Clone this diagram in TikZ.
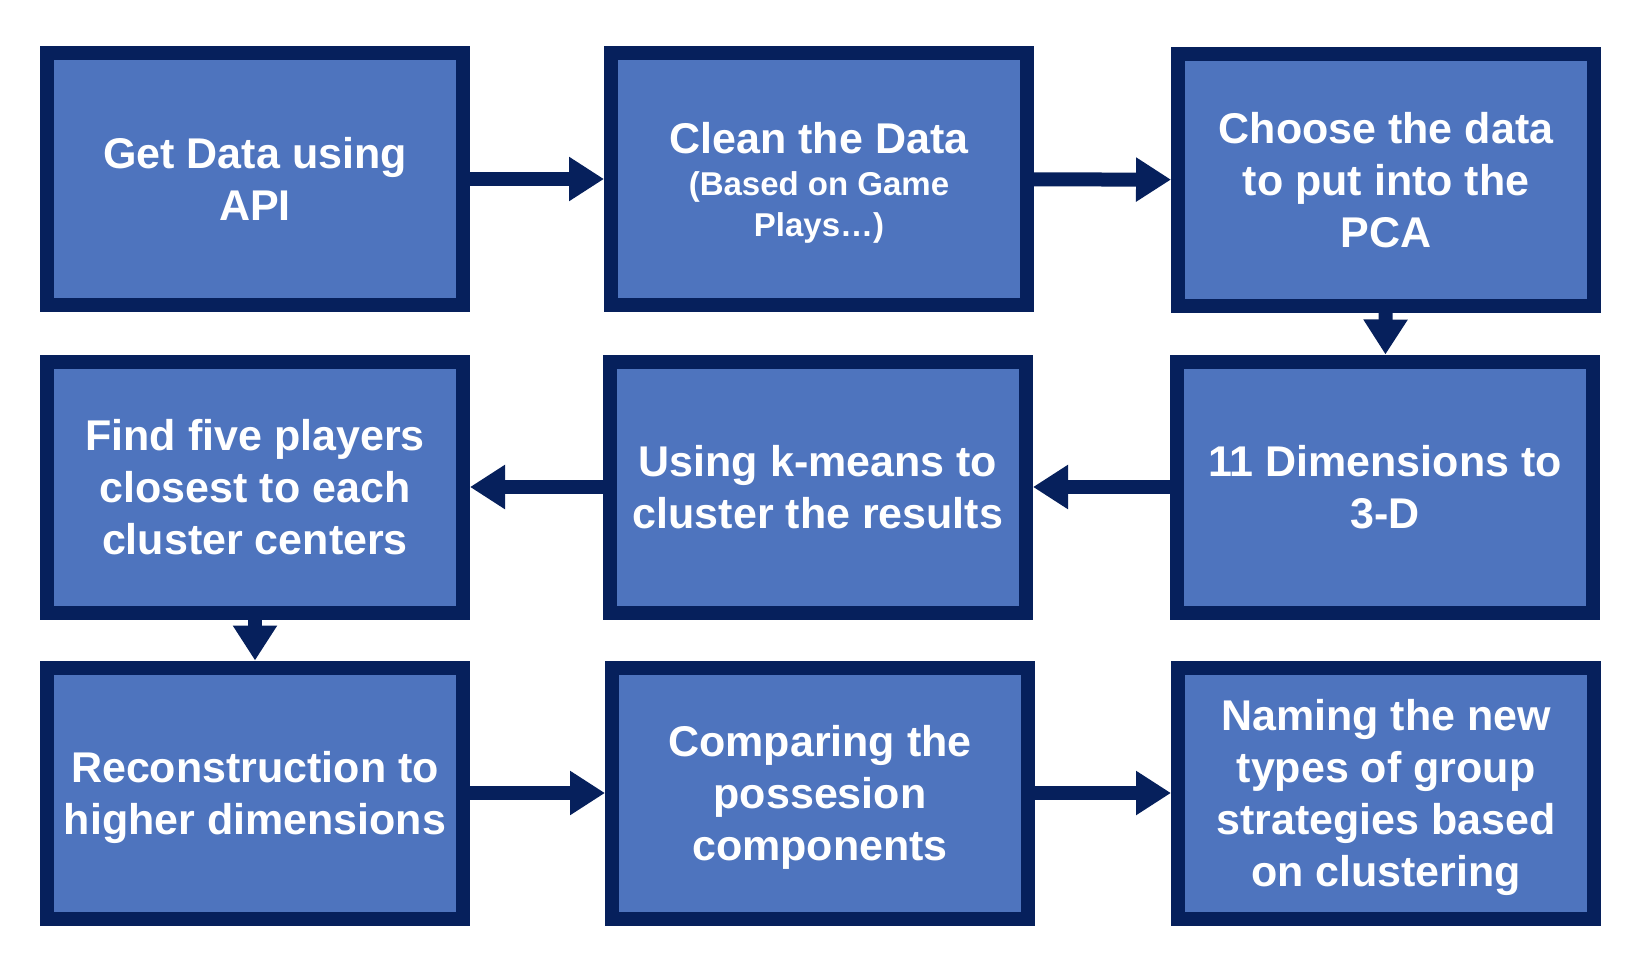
\documentclass[tikz,border=0pt]{standalone}
\usepackage{fontspec}
\setmainfont{Liberation Sans}
\usepackage{xcolor}
\usetikzlibrary{arrows.meta}
\definecolor{boxblue}{HTML}{4E74BE}
\definecolor{navy}{HTML}{06205C}
\newcommand{\subtxt}{\fontsize{33}{41}\selectfont}
\tikzset{
  stage/.style={draw=navy, fill=boxblue, line width=14pt, minimum width=416pt,
    minimum height=251pt, inner sep=0pt, align=center, text=white, text depth=0pt,
    font=\bfseries\fontsize{43}{52}\selectfont},
  flow/.style={navy, line width=14pt, -{Triangle[length=35pt,width=42pt]}}
}

\begin{document}
\begin{tikzpicture}[x=1pt,y=-1pt]
\useasboundingbox (0,0) rectangle (1632,966);
% first row
\node[stage] (getdata) at (255,179) {Get Data using\\API};
\node[stage] (clean) at (819,179) {Clean the Data\\[-10pt]\subtxt(Based on Game\\[-11pt]\subtxt Plays…)};
\node[stage] (choose) at (1386,180) {Choose the data\\to put into the\\PCA};
% second row
\node[stage] (findfive) at (255,487) {Find five players\\closest to each\\cluster centers};
\node[stage] (kmeans) at (818,487) {Using k-means to\\cluster the results};
\node[stage] (dims) at (1385,487) {11 Dimensions to\\3-D};
% third row
\node[stage] (recon) at (255,793) {Reconstruction to\\higher dimensions};
\node[stage] (compare) at (820,793) {Comparing the\\possesion\\components};
\node[stage] (naming) at (1386,793) {Naming the new\\types of group\\strategies based\\on clustering};
% arrows
\draw[flow] (getdata) -- (clean);
\draw[flow] (clean) -- (choose);
\draw[flow] (choose) -- (dims);
\draw[flow] (dims) -- (kmeans);
\draw[flow] (kmeans) -- (findfive);
\draw[flow] (findfive) -- (recon);
\draw[flow] (recon) -- (compare);
\draw[flow] (compare) -- (naming);
\end{tikzpicture}
\end{document}
